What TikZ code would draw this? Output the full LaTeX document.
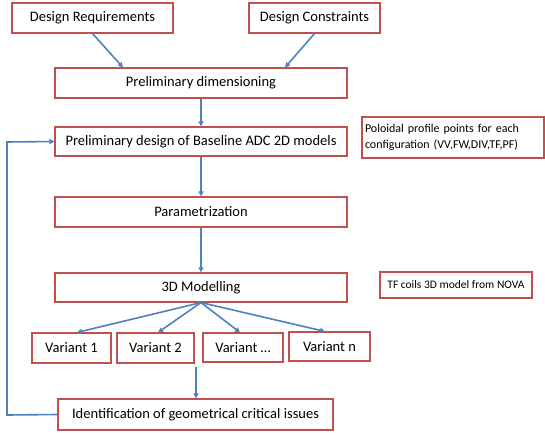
\documentclass[tikz,border=0pt]{standalone}
\usepackage{fontspec}
\setmainfont{Carlito}
\usetikzlibrary{arrows.meta}
\definecolor{boxred}{RGB}{192,80,77}
\definecolor{arrblue}{RGB}{79,129,189}
\tikzset{
  box/.style={draw=boxred, line width=1.1pt, fill=white, inner sep=0pt,
    font=\fontsize{14.5}{17}\selectfont},
  note/.style={box, font=\fontsize{12}{16}\selectfont},
  tfnote/.style={box, font=\fontsize{11.5}{13}\selectfont},
  arr/.style={draw=arrblue, line width=1.6pt, -{Triangle[length=5pt,width=5pt]}}
}
\begin{document}
\begin{tikzpicture}[x=1pt,y=-1pt]
\useasboundingbox (0,0) rectangle (545,434);
\node[box, minimum width=161pt, minimum height=30pt] (dr) at (92.5,18) {Design Requirements};
\node[box, minimum width=131pt, minimum height=30pt] (dc) at (314.5,18) {Design Constraints};
\node[box, minimum width=292pt, minimum height=30pt] (pd) at (201,83) {Preliminary dimensioning};
\node[box, minimum width=292pt, minimum height=29pt] (pbd) at (201,141.5) {Preliminary design of Baseline ADC 2D models};
\node[note, minimum width=182pt, minimum height=41pt, text width=176pt, align=left] (pol) at (453,137.5)
  {\makebox[176pt][s]{Poloidal profile points for each}\\configuration (VV,FW,DIV,TF,PF)};
\node[box, minimum width=292pt, minimum height=30pt] (par) at (201,212) {Parametrization};
\node[box, minimum width=292pt, minimum height=29pt] (m3d) at (201,287.5) {3D Modelling};
\node[tfnote, minimum width=152pt, minimum height=26pt] (tf) at (456,285) {TF coils 3D model from NOVA};
\node[box, minimum width=79pt, minimum height=30pt] (v1) at (71.5,348) {Variant 1};
\node[box, minimum width=77pt, minimum height=30pt] (v2) at (155.5,348) {Variant 2};
\node[box, minimum width=80pt, minimum height=29pt] (v3) at (243,347.5) {Variant \dots};
\node[box, minimum width=81pt, minimum height=29pt] (vn) at (329.5,346.5) {Variant n};
\node[box, minimum width=275pt, minimum height=31pt] (id) at (195.5,414.5) {Identification of geometrical critical issues};
\coordinate (vs) at (196,367);
\coordinate (lb) at (7,415);
\coordinate (lt) at (7,142);
\draw[arr] (dr.south) -- ([xshift=-78pt]pd.north);
\draw[arr] (dc.south) -- ([xshift=84pt]pd.north);
\draw[arr] (pd.south) -- (pbd.north);
\draw[arr] (pbd.south) -- (par.north);
\draw[arr] (par.south) -- (m3d.north);
\draw[arr] (m3d.south) -- ([xshift=5.5pt]v1.north);
\draw[arr] (m3d.south) -- ([xshift=2.5pt]v2.north);
\draw[arr] (m3d.south) -- ([xshift=-3pt]v3.north);
\draw[arr] (m3d.south) -- ([xshift=-4.5pt]vn.north);
\draw[arr] (vs) -- (vs |- id.north);
\draw[arr] (id.west) -- (lb) -- (lt) -- (pbd.west);
\end{tikzpicture}
\end{document}
